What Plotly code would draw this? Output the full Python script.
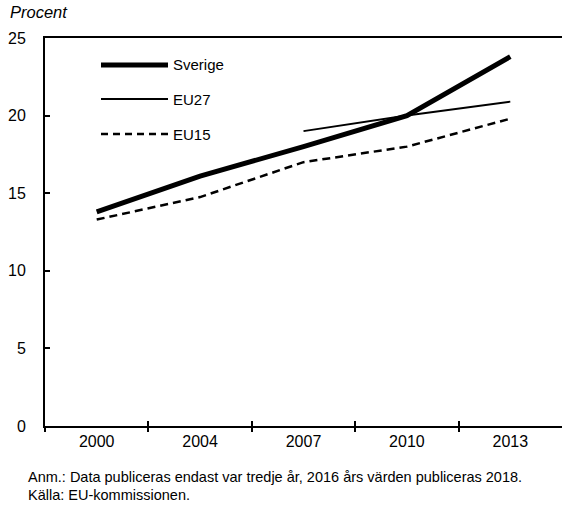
import plotly.graph_objects as go

years = ["2000", "2004", "2007", "2010", "2013"]
sverige = [13.8, 16.1, 18.0, 20.0, 23.8]
eu27 = [None, None, 19.0, 20.0, 20.9]
eu15 = [13.3, 14.75, 17.0, 18.0, 19.8]
y_ticks = [0, 5, 10, 15, 20, 25]

W, H = 565, 506
L, R, T, B = 45, 3, 38, 80
COND = "Liberation Sans, Arial, sans-serif"

def px(x):
    return (x - L) / (W - L - R)

def py(y):
    return (H - B - y) / (H - T - B)

fig = go.Figure()
fig.add_trace(go.Scatter(x=years, y=sverige, mode="lines", name="Sverige",
                         line=dict(color="black", width=5)))
fig.add_trace(go.Scatter(x=years, y=eu27, mode="lines", name="EU27",
                         line=dict(color="black", width=2)))
fig.add_trace(go.Scatter(x=years, y=eu15, mode="lines", name="EU15",
                         line=dict(color="black", width=2.5, dash="8px,5px")))

# Custom legend (longer line samples)
legend_items = [("Sverige", 5, "solid", 65), ("EU27", 2, "solid", 99), ("EU15", 2.5, "dash", 134)]
for name, w, d, yy in legend_items:
    fig.add_shape(type="line", xref="paper", yref="paper",
                  x0=px(101), x1=px(168), y0=py(yy), y1=py(yy),
                  line=dict(color="black", width=w, dash=("solid" if d == "solid" else "7px,5px")))
    fig.add_annotation(xref="paper", yref="paper", x=px(171), y=py(yy), text=name,
                       showarrow=False, xanchor="left", yanchor="middle",
                       font=dict(family=COND, size=15, color="black"))

fig.update_layout(
    width=W, height=H,
    margin=dict(l=L, r=R, t=T, b=B),
    paper_bgcolor="white", plot_bgcolor="white",
    showlegend=False,
    font=dict(family=COND, size=15, color="black"),
    xaxis=dict(type="category", range=[-0.5, 4.5], showline=True, linecolor="black",
               linewidth=2, mirror=True, ticks="", showgrid=False, zeroline=False,
               tickfont=dict(family=COND, size=16), fixedrange=True),
    xaxis2=dict(overlaying="x", anchor="y", side="bottom", range=[-0.5, 4.5],
                tickvals=[-0.5, 0.5, 1.5, 2.5, 3.5], ticks="outside", ticklen=5,
                tickwidth=2, tickcolor="black", showticklabels=False, showgrid=False,
                showline=False, zeroline=False),
    xaxis3=dict(overlaying="x", anchor="y", side="bottom", range=[-0.5, 4.5],
                tickvals=[0.5, 1.5, 2.5, 3.5], ticks="inside", ticklen=5,
                tickwidth=2, tickcolor="black", showticklabels=False, showgrid=False,
                showline=False, zeroline=False),
    yaxis=dict(range=[0, 25], tickvals=y_ticks, showline=True, linecolor="black",
               linewidth=2, ticks="inside", ticklen=5, tickwidth=1.5, tickcolor="black",
               showgrid=False, zeroline=False, ticklabelstandoff=14,
               tickfont=dict(family=COND, size=16)),
)

# dummy traces to activate overlay axes
fig.add_trace(go.Scatter(x=[None], y=[None], xaxis="x2", showlegend=False, hoverinfo="skip"))
fig.add_trace(go.Scatter(x=[None], y=[None], xaxis="x3", showlegend=False, hoverinfo="skip"))

fig.add_annotation(xref="paper", yref="paper", x=px(8), y=py(12), text="<i>Procent</i>",
                   showarrow=False, xanchor="left", yanchor="middle",
                   font=dict(family="Liberation Sans, Arial, sans-serif", size=16.5, color="black"))
fig.add_annotation(xref="paper", yref="paper", x=px(26), y=py(477),
                   text="Anm.: Data publiceras endast var tredje år, 2016 års värden publiceras 2018.",
                   showarrow=False, xanchor="left", yanchor="middle",
                   font=dict(family=COND, size=14.5, color="black"))
fig.add_annotation(xref="paper", yref="paper", x=px(26), y=py(495),
                   text="Källa: EU-kommissionen.",
                   showarrow=False, xanchor="left", yanchor="middle",
                   font=dict(family=COND, size=14.5, color="black"))

fig.write_html("out.html", config={"displayModeBar": False},
               post_script="document.body.style.margin='0';document.body.style.padding='0';document.body.style.overflow='hidden';")
